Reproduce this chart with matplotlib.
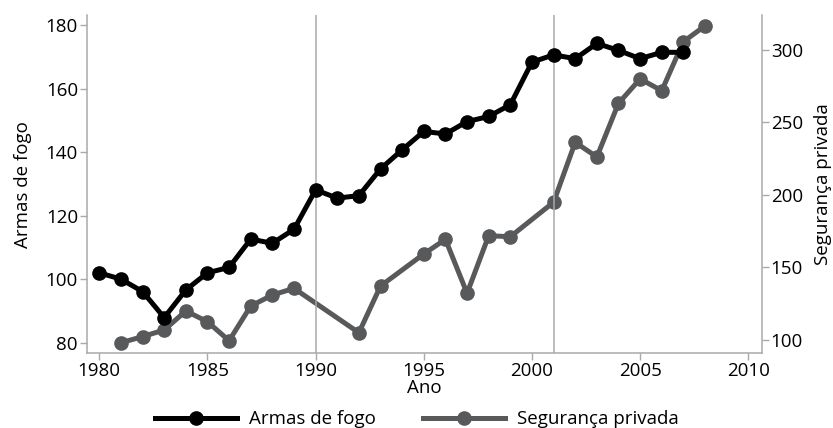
import matplotlib
matplotlib.use("Agg")
import matplotlib.pyplot as plt

plt.rcParams['font.family'] = ['Open Sans', 'DejaVu Sans']
plt.rcParams['font.size'] = 13.5

# Armas de fogo (eixo esquerdo)
anos_armas = list(range(1980, 2008))
armas = [102, 100, 96.1, 87.9, 96.6, 102, 103.7, 112.6, 111.3, 115.7,
         128.1, 125.5, 126.3, 134.7, 140.7, 146.5, 145.7, 149.6, 151.2, 154.9,
         168.3, 170.6, 169.4, 174.2, 172.0, 169.4, 171.4, 171.4]

# Segurança privada (eixo direito)
anos_seg = [1981, 1982, 1983, 1984, 1985, 1986, 1987, 1988, 1989,
            1992, 1993, 1995, 1996, 1997, 1998, 1999,
            2001, 2002, 2003, 2004, 2005, 2006, 2007, 2008]
seguranca = [98.1, 102.3, 106.9, 120.0, 112.6, 99.5, 123.4, 131.0, 135.6,
             105.0, 137.2, 159.3, 169.4, 132.2, 171.9, 171.2,
             195.0, 236.3, 226.2, 263.2, 280.0, 271.9, 305.7, 316.6]

marcos = [1990, 2001]

axis_gray = "#a7a9ac"
dark_gray = "#58595b"

fig = plt.figure(figsize=(8.33, 4.28), dpi=100)
ax = fig.add_axes([0.1044, 0.1745, 0.81, 0.7905])
ax2 = ax.twinx()

for m in marcos:
    ax.axvline(m, color=axis_gray, lw=1.1, zorder=1)

ax2.plot(anos_seg, seguranca, color=dark_gray, lw=3.6, marker='o', ms=9.5,
         label="Segurança privada", solid_joinstyle='miter')
ax.plot(anos_armas, armas, color='black', lw=3.6, marker='o', ms=9.5,
        label="Armas de fogo", solid_joinstyle='miter')

ax.set_zorder(ax2.get_zorder() + 1)
ax.patch.set_visible(False)

ax.set_xlim(1979.43, 2010.62)
ax.set_ylim(76.66, 183.15)
ax2.set_ylim(90.8, 324.1)
ax.set_xticks([1980, 1985, 1990, 1995, 2000, 2005, 2010])
ax.set_yticks([80, 100, 120, 140, 160, 180])
ax2.set_yticks([100, 150, 200, 250, 300])

for a in (ax, ax2):
    a.spines['top'].set_visible(False)
    for s in ('left', 'right', 'bottom'):
        a.spines[s].set_color(axis_gray)
        a.spines[s].set_linewidth(1.1)
    a.tick_params(color=axis_gray, length=5, width=1, pad=1.5)
ax.spines['right'].set_visible(False)
ax2.spines['left'].set_visible(False)
ax2.spines['bottom'].set_visible(False)

ax.set_xlabel("Ano", labelpad=-1)
ax.set_ylabel("Armas de fogo", labelpad=10)
ax2.set_ylabel("Segurança privada", labelpad=8)

h1, l1 = ax.get_legend_handles_labels()
h2, l2 = ax2.get_legend_handles_labels()
fig.legend(h1 + h2, l1 + l2, loc='center', bbox_to_anchor=(0.5, 0.02),
           ncol=2, frameon=False, handlelength=4.4, handletextpad=0.62,
           columnspacing=2.5, borderaxespad=0, borderpad=0)

fig.savefig("out.png", dpi=100)
